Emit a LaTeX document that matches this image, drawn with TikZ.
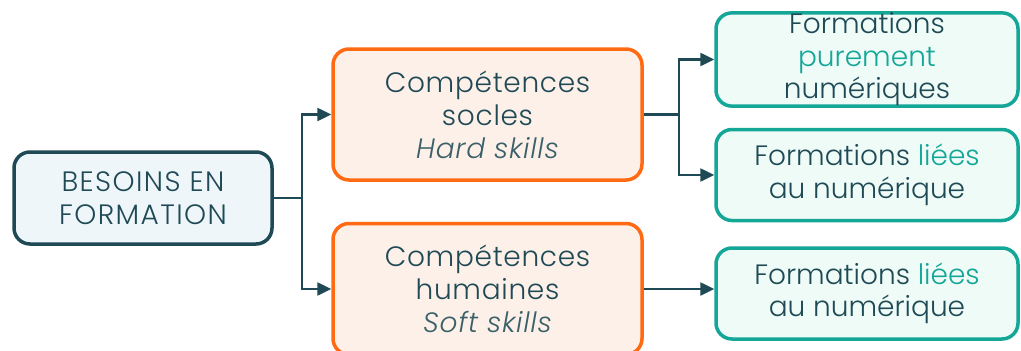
\documentclass[tikz,border=0pt]{standalone}
\usepackage{fontspec}
\setmainfont{Poppins Light}[ItalicFont={Poppins Light Italic}]
\usetikzlibrary{arrows.meta}
\definecolor{dk}{HTML}{1F4A55}
\definecolor{dki}{HTML}{3A6069}
\definecolor{tl}{HTML}{14A697}
\definecolor{org}{HTML}{FF6A13}
\definecolor{lb}{HTML}{EEF6FA}
\definecolor{lo}{HTML}{FDF0E9}
\definecolor{lt}{HTML}{EEFBF7}
\tikzset{
  basebox/.style={rounded corners=16pt, line width=3.5pt, text=dk, align=center,
    font=\fontsize{28}{32.5}\selectfont, inner sep=0pt},
  rootbox/.style={basebox, draw=dk, fill=lb, minimum width=258pt, minimum height=92pt,
    font=\fontsize{28}{32.5}\selectfont\addfontfeature{LetterSpace=5}},
  midbox/.style={basebox, draw=org, fill=lo, minimum width=309pt, minimum height=131pt,
    font=\fontsize{28}{33}\selectfont\addfontfeature{LetterSpace=2.5}},
  leafbox/.style={basebox, draw=tl, fill=lt, minimum width=302pt, minimum height=91pt},
  conn/.style={draw=dk, line width=2.5pt},
  arr/.style={conn, -{Triangle[length=14pt,width=13pt]}},
}
\begin{document}
\begin{tikzpicture}[x=1pt,y=-1pt]
\useasboundingbox (0,0) rectangle (1021,351);
\node[rootbox] (besoin) at (143,198) {BESOINS EN\\FORMATION};
\node[midbox] (hard) at (487.5,114.5) {Compétences\\socles\\{\itshape\color{dki}Hard skills}};
\node[midbox] (soft) at (487.5,289) {Compétences\\humaines\\{\itshape\color{dki}Soft skills}};
\node[leafbox] (f1) at (867,59.5) {Formations\\{\color{tl}purement}\\numériques};
\node[leafbox] (f2) at (867,175) {Formations {\color{tl}liées}\\au numérique};
\node[leafbox] (f3) at (867,293.5) {Formations {\color{tl}liées}\\au numérique};
\coordinate (j1) at (302,198);
\coordinate (j2) at (679,114.5);
\draw[conn] (besoin.east) -- (j1);
\draw[arr] (j1) |- (hard.west);
\draw[arr] (j1) |- (soft.west);
\draw[conn] (hard.east) -- (j2);
\draw[arr] (j2) |- (f1.west);
\draw[arr] (j2) |- (f2.west);
\draw[arr] (soft.east) -- (soft.east -| f3.west);
\end{tikzpicture}
\end{document}
